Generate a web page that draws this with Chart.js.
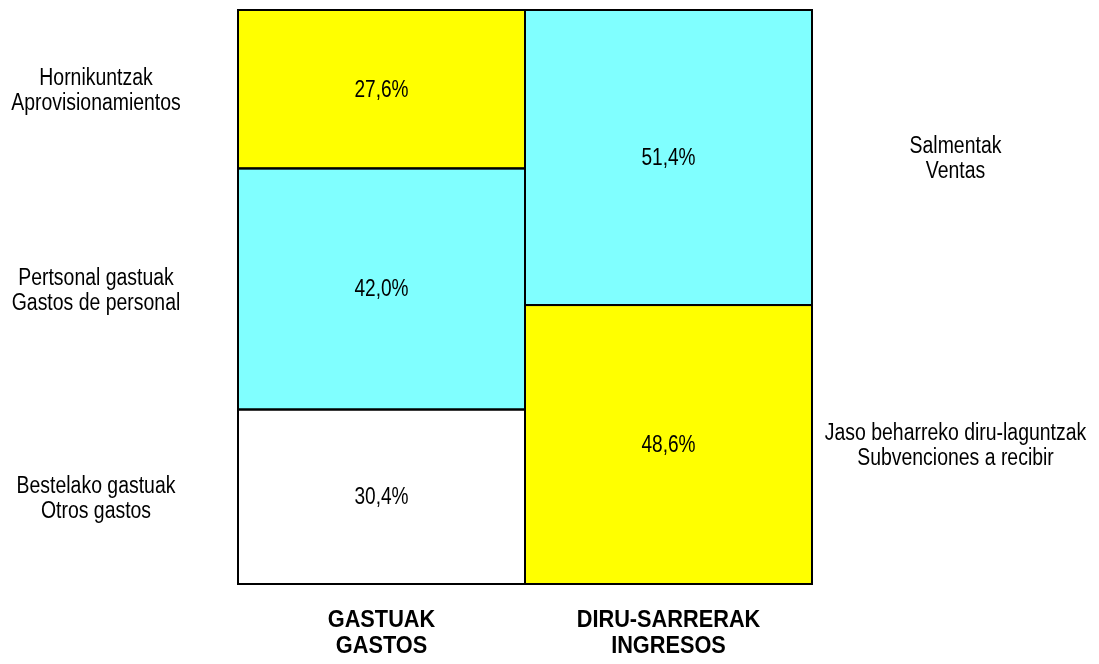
<!DOCTYPE html>
<html>
<head>
<meta charset="utf-8">
<script src="https://cdn.jsdelivr.net/npm/chart.js@4.4.1/dist/chart.umd.min.js"></script>
<style>
html,body{margin:0;padding:0;background:#fff;}
#wrap{width:1099px;height:664px;position:relative;}
</style>
</head>
<body>
<div id="wrap"><canvas id="c" width="1099" height="664"></canvas></div>
<script>
const categories = [["GASTUAK", "GASTOS"], ["DIRU-SARRERAK", "INGRESOS"]];
const bottomValues = [30.4, 48.6];
const middleValues = [42.0, 51.4];
const topValues = [27.6, null];
const bottomColors = ["#FFFFFF", "#FFFF00"];
const middleColors = ["#80FFFF", "#80FFFF"];
const topColors = ["#FFFF00", "#FFFFFF"];
const leftLabels = [["Bestelako gastuak", "Otros gastos"], ["Pertsonal gastuak", "Gastos de personal"], ["Hornikuntzak", "Aprovisionamientos"]];
const rightLabels = [["Jaso beharreko diru-laguntzak", "Subvenciones a recibir"], ["Salmentak", "Ventas"], null];

const FONT = '"Liberation Sans Narrow", "Arial Narrow", "Liberation Sans", Arial, sans-serif';

function narrowText(ctx, text, x, y, sx) {
  ctx.save();
  ctx.translate(x, y);
  ctx.scale(sx, 1);
  ctx.fillText(text, 0, 0);
  ctx.restore();
}

const decorPlugin = {
  id: 'decor',
  afterDatasetsDraw(chart) {
    const ctx = chart.ctx;
    ctx.save();
    ctx.strokeStyle = '#000';
    ctx.lineWidth = 2;
    chart.data.datasets.forEach((ds, di) => {
      const meta = chart.getDatasetMeta(di);
      meta.data.forEach((el, i) => {
        if (ds.data[i] == null) return;
        const p = el.getProps(['x', 'y', 'base', 'width'], true);
        const l = p.x - p.width / 2, r = p.x + p.width / 2;
        const t = Math.min(p.y, p.base), b = Math.max(p.y, p.base);
        ctx.strokeRect(l, t, r - l, b - t);
      });
    });
    ctx.fillStyle = '#000';
    ctx.textAlign = 'center';
    ctx.textBaseline = 'middle';
    ctx.font = '23px ' + FONT;
    const area = chart.chartArea;
    chart.data.datasets.forEach((ds, di) => {
      const meta = chart.getDatasetMeta(di);
      meta.data.forEach((el, i) => {
        const v = ds.data[i];
        if (v == null) return;
        const p = el.getProps(['x', 'y', 'base'], true);
        const cy = (p.y + p.base) / 2;
        narrowText(ctx, v.toFixed(1).replace('.', ',') + '%', p.x, cy + 1, 0.83);
        const side = i === 0 ? leftLabels[di] : rightLabels[di];
        if (side) {
          const sx = i === 0 ? area.left / 2 - 23 : area.right + (chart.width - area.right) / 2 + 0;
          narrowText(ctx, side[0], sx, cy - 12.5 + 2, 0.845);
          narrowText(ctx, side[1], sx, cy + 12.5 + 2, 0.845);
        }
      });
    });
    ctx.font = 'bold 23px ' + FONT;
    const xs = chart.scales.x;
    categories.forEach((c, i) => {
      const x = xs.getPixelForValue(i);
      narrowText(ctx, c[0], x, area.bottom + 37, 0.945);
      narrowText(ctx, c[1], x, area.bottom + 63, 0.945);
    });
    ctx.restore();
  }
};

new Chart(document.getElementById('c'), {
  type: 'bar',
  data: {
    labels: categories,
    datasets: [
      { data: bottomValues, backgroundColor: bottomColors, borderWidth: 0 },
      { data: middleValues, backgroundColor: middleColors, borderWidth: 0 },
      { data: topValues, backgroundColor: topColors, borderWidth: 0 }
    ]
  },
  options: {
    responsive: false,
    animation: false,
    layout: { padding: { left: 238, right: 287, top: 10, bottom: 80 } },
    plugins: { legend: { display: false }, tooltip: { enabled: false } },
    datasets: { bar: { barPercentage: 1, categoryPercentage: 1 } },
    scales: {
      x: { stacked: true, display: false },
      y: { stacked: true, display: false, min: 0, max: 100 }
    }
  },
  plugins: [decorPlugin]
});
</script>
</body>
</html>
